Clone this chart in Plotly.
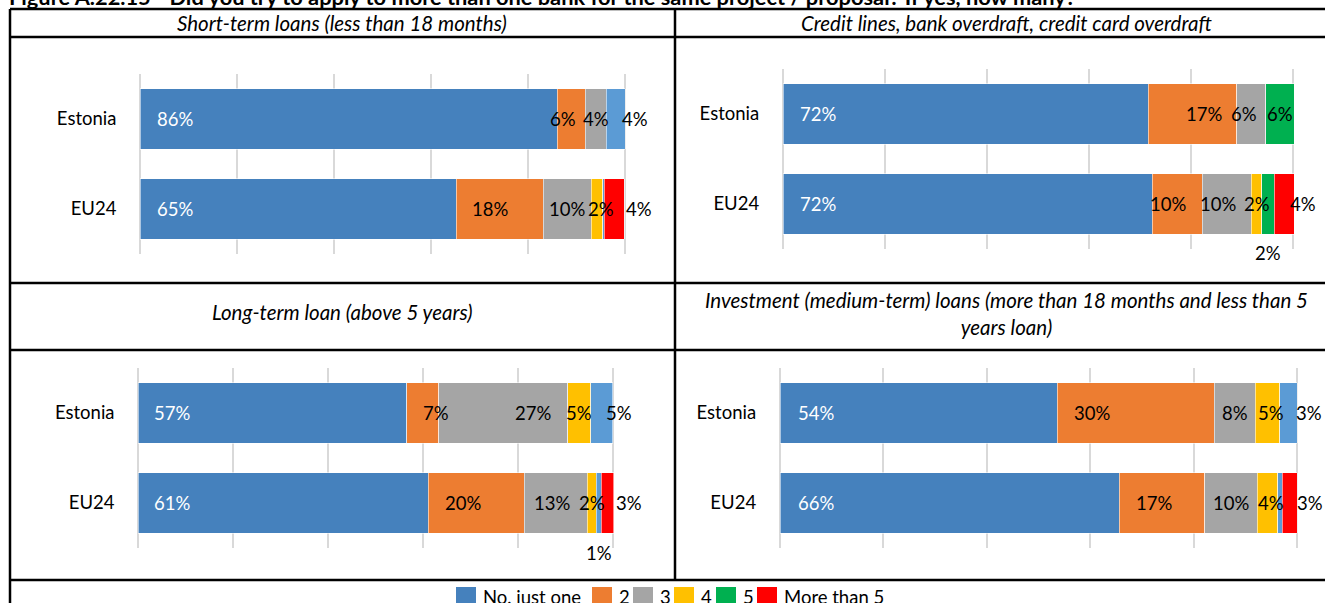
import plotly.graph_objects as go

W, H = 1325, 603

# ---------------- data ----------------
series = ["No, just one", "2", "3", "4", "5", "Don't know", "More than 5"]
legend_series = ["No, just one", "2", "3", "4", "5", "More than 5"]
countries = ["Estonia", "EU24"]
panel_titles = [
    "Short-term loans (less than 18 months)",
    "Credit lines, bank overdraft, credit card overdraft",
    "Long-term loan (above 5 years)",
    "Investment (medium-term) loans (more than 18 months and less than 5<br>years loan)",
]
figure_title = ("Figure A.22.15 - Did you try to apply to more than one bank for the same "
                "project / proposal? If yes, how many?")

# values in %, ordered as `series`
short_estonia = [86.0, 5.8, 4.3, 0, 0, 3.9, 0]
short_eu24 = [65.2, 17.9, 9.9, 2.4, 0, 0.3, 4.1]
credit_estonia = [71.6, 17.4, 5.7, 0, 5.5, 0, 0]
credit_eu24 = [72.4, 9.8, 9.6, 2.1, 2.4, 0, 3.9]
long_estonia = [56.6, 6.7, 27.2, 4.8, 0, 4.6, 0]
long_eu24 = [61.1, 20.2, 13.3, 1.9, 0, 1.0, 2.7]
invest_estonia = [53.6, 30.4, 7.9, 4.8, 0, 3.3, 0]
invest_eu24 = [65.6, 16.6, 10.1, 4.0, 0, 0.8, 2.9]

panel_values = [
    (short_estonia, short_eu24),
    (credit_estonia, credit_eu24),
    (long_estonia, long_eu24),
    (invest_estonia, invest_eu24),
]

# ---------------- styles ----------------
colors = ["#4581BD", "#ED7D31", "#A5A5A5", "#FFC000", "#00B050", "#5B9BD5", "#FF0000"]
FONT = "Lato"
LBL = 18.5

# panel geometry in pixels: x of 0%, x of 100%, plot top, plot bottom
panel_geom = [
    (140, 625, 74, 254),
    (783, 1293, 69, 249),
    (138, 613, 368, 548),
    (780, 1297, 368, 548),
]

# label placement: series index -> (x offset in % from segment centre, y shift px)
label_place = [
    ({1: (-1.6, 0), 2: (0, 0), 5: (4, 0)},
     {1: (-1.9, 0), 2: (0, 0), 3: (0.8, 0), 6: (5.2, 0)}),
    ({1: (2.2, 0), 2: (-1.4, 0), 4: (0, 0)},
     {1: (-1.8, 0), 2: (-1.8, 0), 3: (0, 0), 4: (0, -49), 6: (3.7, 0)}),
    ({1: (2.7, 0), 2: (6.3, 0), 3: (0, 0), 5: (3.6, 0)},
     {1: (-2.7, 0), 2: (-0.8, 0), 3: (0, 0), 5: (0, -50), 6: (4.6, 0)}),
    ({1: (-8.5, 0), 2: (0, 0), 3: (0.6, 0), 5: (3.9, 0)},
     {1: (-1.5, 0), 2: (0, 0), 3: (0.6, 0), 6: (3.9, 0)}),
]

title_cells = [  # centre x px, centre y px
    (342, 23), (1006, 23), (342, 312), (1006, 313),
]

fig = go.Figure()
annotations = []
shapes = []


def px(xp):
    return xp / W


def py(yp):
    return 1 - yp / H


for p, ((est, eu), (x0, x100, yt, yb)) in enumerate(zip(panel_values, panel_geom)):
    k = p + 1
    xa = "x" if k == 1 else f"x{k}"
    ya = "y" if k == 1 else f"y{k}"
    ppp = (x100 - x0) / 100.0
    lo = -1
    hi = min(112.0, (W - 1 - x0) / ppp)
    for s, name in enumerate(series):
        vals = [est[s] if est[s] > 0 else None, eu[s] if eu[s] > 0 else None]
        fig.add_trace(go.Bar(
            y=countries, x=vals, orientation="h", name=name,
            marker=dict(color=colors[s], line=dict(color="rgba(255,255,255,0.7)", width=0.8)),
            xaxis=xa, yaxis=ya, showlegend=False,
            hovertemplate="%{y}: %{x}%<extra>" + name + "</extra>",
        ))
    fig.layout[f"xaxis{'' if k == 1 else k}"] = dict(
        domain=[px(x0 + lo * ppp), px(x0 + hi * ppp)], range=[lo, hi],
        anchor=ya, showticklabels=False, showgrid=True, gridcolor="#D9D9D9",
        gridwidth=2, dtick=20, tick0=0, zeroline=False, showline=False, fixedrange=True,
    )
    fig.layout[f"yaxis{'' if k == 1 else k}"] = dict(
        domain=[py(yb), py(yt)], anchor=xa, autorange="reversed",
        showgrid=False, zeroline=False, showline=False,
        ticks="outside", ticklen=14, tickcolor="rgba(0,0,0,0)",
        tickfont=dict(family=FONT, size=LBL, color="#000000"), fixedrange=True,
    )
    # data labels
    for c, vals in enumerate((est, eu)):
        cum = 0.0
        for s, v in enumerate(vals):
            if s == 0:
                annotations.append(dict(
                    x=3, y=countries[c], xref=xa, yref=ya, text=f"{v:.0f}%",
                    showarrow=False, xanchor="left",
                    font=dict(family=FONT, size=LBL, color="white")))
            elif s in label_place[p][c]:
                dx, dy = label_place[p][c][s]
                annotations.append(dict(
                    x=cum + v / 2 + dx, y=countries[c], xref=xa, yref=ya,
                    text=f"{v:.0f}%", showarrow=False, xanchor="center", yshift=dy,
                    font=dict(family=FONT, size=LBL, color="black")))
            cum += v

# panel titles
for (cx, cy), t in zip(title_cells, panel_titles):
    annotations.append(dict(
        x=px(cx), y=py(cy), xref="paper", yref="paper", text=f"<i>{t}</i>",
        showarrow=False, xanchor="center", yanchor="middle",
        font=dict(family=FONT, size=20.5, color="black")))

# figure title (cut off at the top edge, as in the source)
annotations.append(dict(
    x=px(7), y=py(12), xref="paper", yref="paper", text=f"<b>{figure_title}</b>",
    showarrow=False, xanchor="left", yanchor="bottom",
    font=dict(family=FONT, size=21.8, color="black")))

# table borders
LW = 2.5
for yl in (9, 37, 283, 350, 580):
    shapes.append(dict(type="line", xref="paper", yref="paper", x0=px(10), x1=1.0,
                       y0=py(yl), y1=py(yl), line=dict(color="black", width=LW)))
shapes.append(dict(type="line", xref="paper", yref="paper", x0=px(10), x1=px(10),
                   y0=py(9), y1=0, line=dict(color="black", width=LW)))
shapes.append(dict(type="line", xref="paper", yref="paper", x0=px(675), x1=px(675),
                   y0=py(9), y1=py(580), line=dict(color="black", width=LW)))

# legend (manual, matches the source layout)
legend_x = [456, 592, 633, 674, 716, 757]
for name, lx in zip(legend_series, legend_x):
    col = colors[series.index(name)]
    shapes.append(dict(type="rect", xref="paper", yref="paper", x0=px(lx), x1=px(lx + 20),
                       y0=py(604), y1=py(587), fillcolor=col, line=dict(width=0)))
    annotations.append(dict(
        x=px(lx + 25), y=py(597), xref="paper", yref="paper", text=name,
        showarrow=False, xanchor="left", yanchor="middle",
        font=dict(family=FONT, size=LBL, color="black")))

fig.update_layout(
    width=W, height=H, margin=dict(l=0, r=0, t=0, b=0),
    paper_bgcolor="white", plot_bgcolor="rgba(0,0,0,0)",
    barmode="stack", bargap=0.333,
    annotations=annotations, shapes=shapes,
    font=dict(family=FONT, color="black"),
    showlegend=False,
)

fig.write_html("out.html", config={"displayModeBar": False},
               post_script="document.body.style.margin='0px';document.body.style.overflow='hidden';")
